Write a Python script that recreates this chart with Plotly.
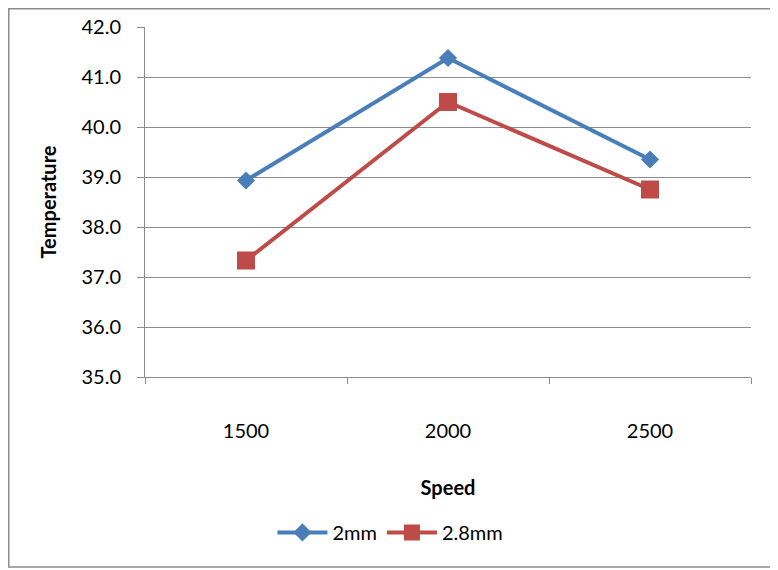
import plotly.graph_objects as go

speeds = ["1500", "2000", "2500"]
temp_2mm = [38.93, 41.38, 39.35]
temp_28mm = [37.33, 40.50, 38.75]
series_names = ["2mm", "2.8mm"]

FONT = "Lato, Carlito, Calibri, sans-serif"
GRID = "#8c8c8c"

fig = go.Figure()
fig.add_trace(go.Scatter(
    x=speeds, y=temp_2mm, name=series_names[0], mode="lines+markers",
    line=dict(color="#4A7EBB", width=4),
    marker=dict(symbol="diamond", size=14, color="#4A7EBB"),
))
fig.add_trace(go.Scatter(
    x=speeds, y=temp_28mm, name=series_names[1], mode="lines+markers",
    line=dict(color="#BE4B48", width=4),
    marker=dict(symbol="square", size=18, color="#BE4B48"),
))

# page body has an 8px margin, so the margins are shifted to compensate
fig.update_layout(
    width=778, height=570,
    margin=dict(l=137, r=35, t=19, b=201),
    paper_bgcolor="white", plot_bgcolor="white",
    font=dict(family=FONT, size=20, color="black"),
    showlegend=True,
    legend=dict(orientation="h", x=0.405, xanchor="center", y=-0.444, yanchor="middle",
                font=dict(size=20), itemwidth=50),
    xaxis=dict(
        type="category", range=[-0.5, 2.5], showgrid=False, automargin=False,
        showline=True, linecolor=GRID, linewidth=1,
        ticks="outside", tickson="boundaries", ticklen=6, tickcolor=GRID,
        ticklabelstandoff=36,
        title=dict(text="<b>Speed</b>", font=dict(size=20), standoff=39),
    ),
    yaxis=dict(
        range=[35, 42], dtick=1, tickformat=".1f", automargin=False,
        showgrid=True, gridcolor=GRID, gridwidth=1,
        showline=True, linecolor=GRID, linewidth=1,
        ticks="outside", ticklen=7, tickcolor=GRID, ticklabelstandoff=12,
        zeroline=False,
        title=dict(text="<b>Temperature</b>", font=dict(size=20), standoff=19),
    ),
)

# outer chart border
fig.add_shape(type="rect", xref="paper", yref="paper",
              x0=-0.2248, x1=1.0396, y0=-0.5429, y1=1.0521,
              line=dict(color="#8c8c8c", width=1.5))

fig.write_html("out.html")
